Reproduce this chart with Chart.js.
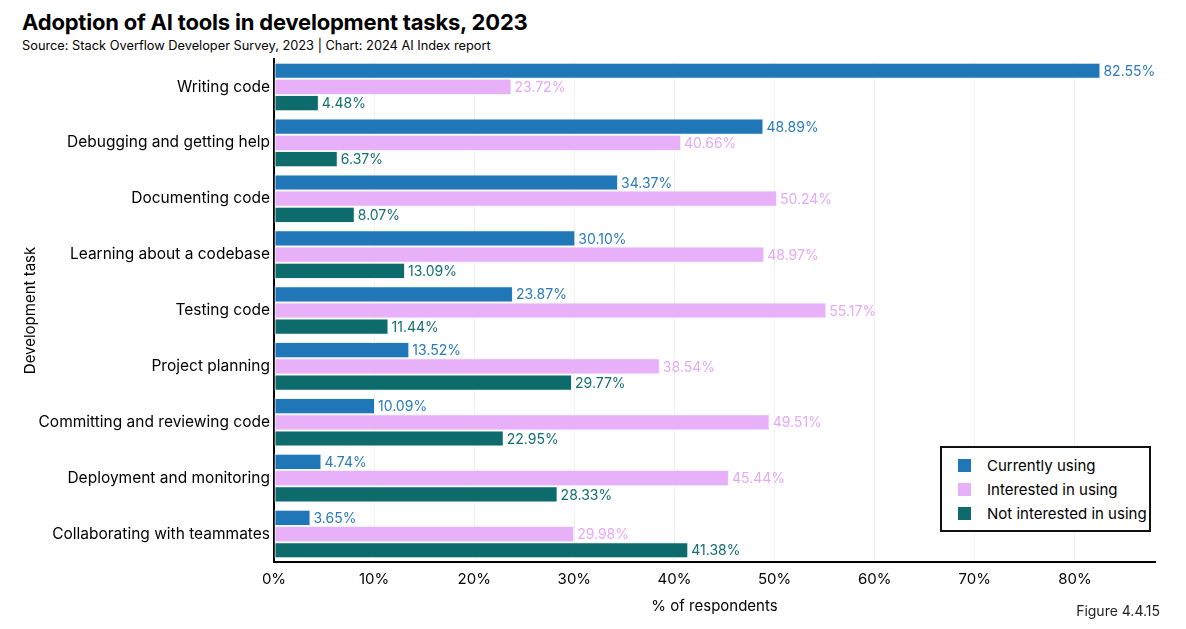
<!DOCTYPE html>
<html lang="en">
<head>
    <meta charset="UTF-8">
    <title>Adoption of AI tools in development tasks, 2023</title>
    <script src="https://cdn.jsdelivr.net/npm/chart.js"></script>
    <style>
        html, body { margin: 0; padding: 0; background: #fff; }
        body { width: 1186px; height: 629px; position: relative; overflow: hidden; font-family: Inter, "Noto Sans", sans-serif; color: #000; }
        .title { position: absolute; left: 22px; top: 9px; font-size: 22px; font-weight: 700; letter-spacing: -0.2px; }
        .subtitle { position: absolute; left: 22px; top: 38px; font-size: 12.8px; }
        .figure { position: absolute; right: 26px; top: 602px; font-size: 14px; color: #222; }
        #wrap { position: absolute; left: 0; top: 0; width: 1186px; height: 629px; }
        .legend { position: absolute; left: 940px; top: 446px; width: 211px; height: 86px; border: 2px solid #111; background: #fff; box-sizing: border-box; padding: 5px 0 0 16px; }
        .legend div { display: flex; align-items: center; height: 24px; font-size: 15px; }
        .legend span { display: inline-block; width: 13px; height: 13px; margin-right: 16px; }
    </style>
</head>
<body>
    <div class="title">Adoption of AI tools in development tasks, 2023</div>
    <div class="subtitle">Source: Stack Overflow Developer Survey, 2023 | Chart: 2024 AI Index report</div>
    <div id="wrap"><canvas id="chart"></canvas></div>
    <div class="legend" id="legend"></div>
    <div class="figure">Figure 4.4.15</div>

    <script>
        const tasks = ['Writing code', 'Debugging and getting help', 'Documenting code', 'Learning about a codebase',
            'Testing code', 'Project planning', 'Committing and reviewing code', 'Deployment and monitoring',
            'Collaborating with teammates'];
        const currentlyUsing = [82.55, 48.89, 34.37, 30.10, 23.87, 13.52, 10.09, 4.74, 3.65];
        const interestedInUsing = [23.72, 40.66, 50.24, 48.97, 55.17, 38.54, 49.51, 45.44, 29.98];
        const notInterested = [4.48, 6.37, 8.07, 13.09, 11.44, 29.77, 22.95, 28.33, 41.38];

        const fontFamily = 'Inter, "Noto Sans", sans-serif';

        // value labels at the end of each bar
        const barLabels = {
            id: 'barLabels',
            afterDatasetsDraw(chart) {
                const ctx = chart.ctx;
                ctx.save();
                ctx.font = '14px ' + fontFamily;
                ctx.textBaseline = 'middle';
                ctx.textAlign = 'left';
                chart.data.datasets.forEach((ds, i) => {
                    chart.getDatasetMeta(i).data.forEach((bar, j) => {
                        ctx.fillStyle = ds.labelColor;
                        ctx.fillText(ds.data[j].toFixed(2) + '%', bar.x + 3, bar.y + 1);
                    });
                });
                ctx.restore();
            }
        };

        const chart = new Chart(document.getElementById('chart'), {
            type: 'bar',
            data: {
                labels: tasks,
                datasets: [
                    { label: 'Currently using', data: currentlyUsing, backgroundColor: '#1f77b8', labelColor: '#2a7bbd' },
                    { label: 'Interested in using', data: interestedInUsing, backgroundColor: '#e9b0fa', labelColor: '#e4a9f7' },
                    { label: 'Not interested in using', data: notInterested, backgroundColor: '#0e6b6c', labelColor: '#146e70' }
                ].map(d => Object.assign(d, {
                    borderColor: '#eef3f5', borderWidth: 1, borderSkipped: false,
                    categoryPercentage: 0.87, barPercentage: 1
                }))
            },
            options: {
                indexAxis: 'y',
                responsive: true,
                maintainAspectRatio: false,
                animation: false,
                layout: { padding: { top: 59, right: 31, bottom: 0, left: 0 } },
                plugins: {
                    legend: { display: false },
                    tooltip: { enabled: false }
                },
                scales: {
                    x: {
                        min: 0,
                        max: 88,
                        afterBuildTicks: s => { s.ticks = s.ticks.filter(t => t.value % 10 === 0); },
                        ticks: { stepSize: 10, color: '#000', padding: 8, font: { family: fontFamily, size: 15 },
                            callback: v => v + '%' },
                        grid: { color: '#f1f1f1', drawTicks: false },
                        border: { color: '#000', width: 2 },
                        title: { display: true, text: '% of respondents', color: '#000', padding: { top: 1, bottom: 14 },
                            font: { family: fontFamily, size: 15 } }
                    },
                    y: {
                        afterFit: s => { s.width = 274; },
                        ticks: { color: '#000', padding: 4, font: { family: fontFamily, size: 15.5 } },
                        grid: { display: false, drawTicks: false },
                        border: { color: '#000', width: 2 },
                        title: { display: true, text: 'Development task', color: '#000', padding: { top: 21, bottom: 0 },
                            font: { family: fontFamily, size: 15 } }
                    }
                }
            },
            plugins: [barLabels]
        });

        // legend built from the datasets
        const legend = document.getElementById('legend');
        chart.data.datasets.forEach(ds => {
            const row = document.createElement('div');
            row.innerHTML = '<span style="background:' + ds.backgroundColor + '"></span>' + ds.label;
            legend.appendChild(row);
        });
    </script>
</body>
</html>
